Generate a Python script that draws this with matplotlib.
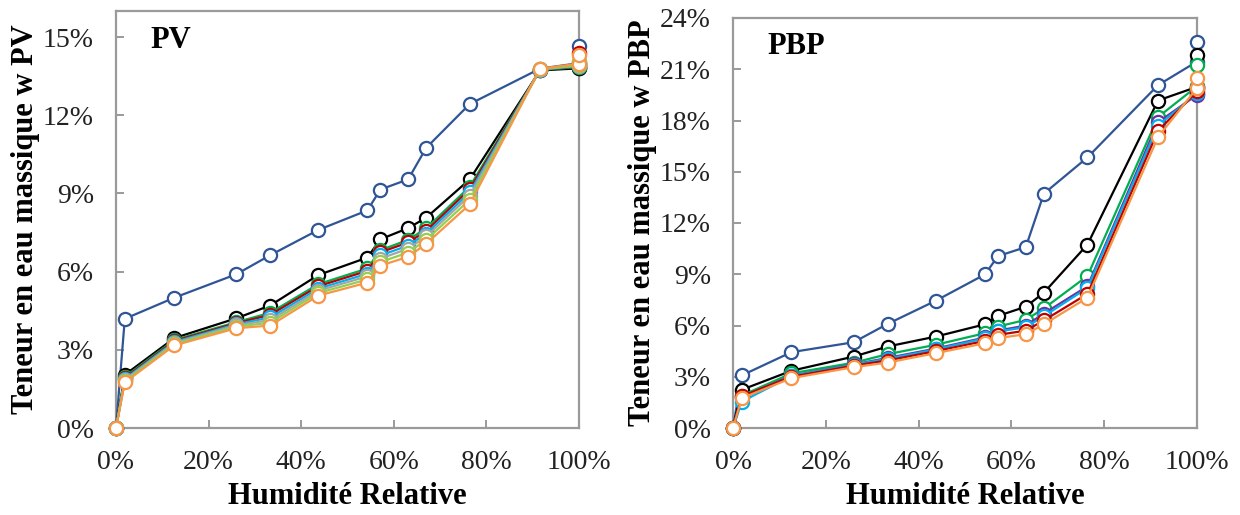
import matplotlib
matplotlib.use("Agg")
import matplotlib.pyplot as plt
from matplotlib.ticker import FuncFormatter, MultipleLocator

# ---------------- data ----------------
rh = [0.0, 0.019, 0.126, 0.26, 0.333, 0.437, 0.543, 0.571, 0.631, 0.67, 0.764, 0.916, 1.0, 1.0]

pv_blue   = [0.0, 4.19, 5.00, 5.90, 6.63, 7.60, 8.35, 9.15, 9.54, 10.75, 12.43, 13.79, 14.00, 14.65]
pv_black  = [0.0, 2.04, 3.45, 4.21, 4.70, 5.87, 6.54, 7.24, 7.67, 8.07, 9.54, 13.72, 13.80, 13.80]
pv_green  = [0.0, 1.96, 3.38, 4.06, 4.42, 5.52, 6.12, 6.82, 7.22, 7.66, 9.26, 13.74, 13.85, 13.95]
pv_red    = [0.0, 1.92, 3.34, 4.02, 4.34, 5.44, 6.03, 6.74, 7.12, 7.56, 9.16, 13.75, 13.88, 14.40]
pv_sky    = [0.0, 1.88, 3.30, 3.98, 4.24, 5.35, 5.92, 6.62, 7.00, 7.46, 9.04, 13.75, 13.90, 13.95]
pv_gray   = [0.0, 1.84, 3.26, 3.94, 4.14, 5.27, 5.82, 6.50, 6.88, 7.35, 8.92, 13.76, 13.90, 14.05]
pv_lgreen = [0.0, 1.80, 3.22, 3.89, 4.04, 5.18, 5.70, 6.37, 6.73, 7.22, 8.76, 13.77, 13.92, 14.10]
pv_orange = [0.0, 1.75, 3.17, 3.83, 3.93, 5.08, 5.58, 6.23, 6.57, 7.07, 8.58, 13.79, 13.98, 14.30]

pbp_blue   = [0.0, 3.08, 4.44, 5.02, 6.09, 7.45, 8.99, 10.06, 10.59, 13.72, 15.84, 20.07, 21.45, 22.58]
pbp_black  = [0.0, 2.24, 3.35, 4.18, 4.77, 5.35, 6.07, 6.56, 7.10, 7.92, 10.74, 19.17, 19.97, 21.83]
pbp_green  = [0.0, 1.90, 3.20, 3.82, 4.32, 4.87, 5.55, 5.94, 6.33, 7.00, 8.90, 18.20, 20.00, 21.24]
pbp_purple = [0.0, 1.82, 3.06, 3.72, 4.10, 4.65, 5.30, 5.70, 6.00, 6.70, 8.30, 17.90, 19.50, 19.55]
pbp_sky    = [0.0, 1.55, 3.04, 3.70, 4.05, 4.60, 5.25, 5.65, 5.90, 6.55, 8.20, 17.70, 19.60, 19.90]
pbp_red    = [0.0, 1.85, 3.00, 3.65, 3.95, 4.50, 5.10, 5.45, 5.70, 6.30, 7.85, 17.40, 19.70, 19.90]
pbp_orange = [0.0, 1.75, 2.92, 3.56, 3.83, 4.38, 4.96, 5.26, 5.49, 6.07, 7.63, 17.03, 19.90, 20.46]

pv_series = [pv_blue, pv_black, pv_green, pv_red, pv_sky, pv_gray, pv_lgreen, pv_orange]
pv_colors = ["#2F5597", "#000000", "#00B050", "#C00000", "#00B0F0", "#A5A5A5", "#92D050", "#F79646"]
pbp_series = [pbp_blue, pbp_black, pbp_green, pbp_purple, pbp_sky, pbp_red, pbp_orange]
pbp_colors = ["#2F5597", "#000000", "#00B050", "#7030A0", "#00B0F0", "#C00000", "#F79646"]

xticks = [0, 0.2, 0.4, 0.6, 0.8, 1.0]

# ---------------- figure ----------------
plt.rcParams['font.family'] = ['Liberation Serif', 'DejaVu Serif']
fig = plt.figure(figsize=(12.4, 5.15), dpi=100)

W, H = 1240, 515
ax1 = fig.add_axes([116 / W, 1 - 428 / H, (579 - 116) / W, (428 - 11) / H])
ax2 = fig.add_axes([733 / W, 1 - 428 / H, (1197 - 733) / W, (428 - 18) / H])

def style(ax, series, colors, ymax, ystep, title, ylabel):
    for s, c in zip(series, colors):
        ax.plot(rh, [v / 100 for v in s], color=c, lw=1.6, marker='o', ms=9.5,
                mfc='white', mec=c, mew=1.6, clip_on=False, zorder=3)
    ax.set_xlim(0, 1)
    ax.set_ylim(0, ymax / 100)
    ax.set_xticks(xticks)
    ax.yaxis.set_major_locator(MultipleLocator(ystep / 100))
    ax.xaxis.set_major_formatter(FuncFormatter(lambda v, p: f"{v * 100:.0f}%"))
    ax.yaxis.set_major_formatter(FuncFormatter(lambda v, p: f"{v * 100:.0f}%"))
    for sp in ax.spines.values():
        sp.set_color('#9a9a9a')
        sp.set_linewidth(1.6)
    ax.tick_params(direction='in', length=6, width=1.4, color='#9a9a9a',
                   labelsize=20, labelcolor='#222222')
    ax.tick_params(axis='x', pad=16)
    ax.tick_params(axis='y', pad=16)
    ax.set_xlabel("Humidité Relative", fontsize=22, fontweight='bold', labelpad=5)
    ax.set_ylabel(ylabel, fontsize=22, fontweight='bold', labelpad=2)
    ax.text(0.075, 0.965, title, transform=ax.transAxes, fontsize=22,
            fontweight='bold', va='top', ha='left')

style(ax1, pv_series, pv_colors, 16, 3, "PV", "Teneur en eau massique w PV")
style(ax2, pbp_series, pbp_colors, 24, 3, "PBP", "Teneur en eau massique w PBP")

fig.savefig("out.png", dpi=100)
